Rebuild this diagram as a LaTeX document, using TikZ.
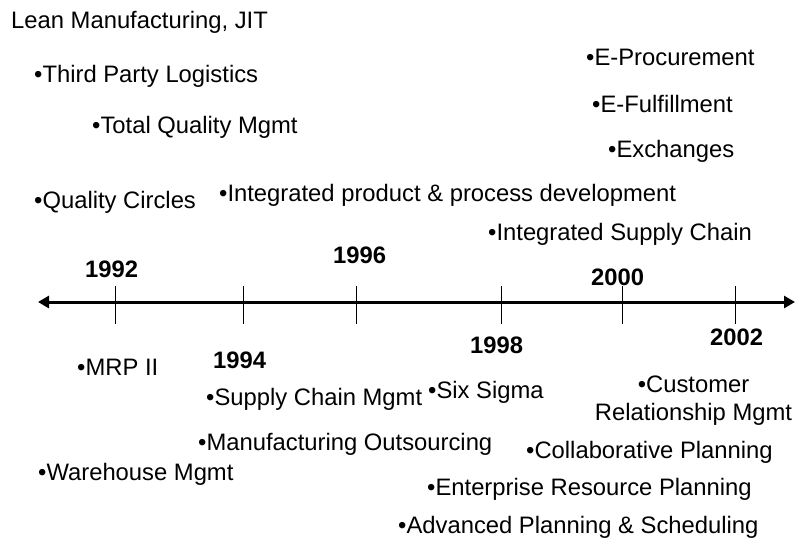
\documentclass[tikz,border=0pt]{standalone}
\usepackage{fontspec}
\setmainfont{Liberation Sans}
\usetikzlibrary{arrows.meta}
\tikzset{
  item/.style={anchor=base west,inner sep=0pt,font=\fontsize{23.8}{28}\selectfont},
  yearlbl/.style={anchor=base west,inner sep=0pt,font=\fontsize{23.8}{28}\selectfont\bfseries},
  axisline/.style={line width=3pt,{Triangle[length=11pt,width=12pt]}-{Triangle[length=11pt,width=12pt]}},
  tickline/.style={line width=0.9pt}
}
\begin{document}
\begin{tikzpicture}[x=1pt,y=-1pt]
\useasboundingbox (0,0) rectangle (795,542);
% axis
\coordinate (axL) at (38,302);
\coordinate (axR) at (795,302);
\draw[axisline] (axL) -- (axR);
\foreach \tx/\nm in {115/t1,243/t2,356/t3,501/t4,622/t5,735/t6}{
  \coordinate (\nm a) at (\tx,286);
  \coordinate (\nm b) at (\tx,324);
  \draw[tickline] (\nm a) -- (\nm b);
}
% years
\node[yearlbl] (y1992) at (85,277) {1992};
\node[yearlbl] (y1996) at (333,263) {1996};
\node[yearlbl] (y2000) at (591,285) {2000};
\node[yearlbl] (y1994) at (213,368) {1994};
\node[yearlbl] (y1998) at (470,353) {1998};
\node[yearlbl] (y2002) at (710,345) {2002};
% upper items
\node[item] (lean) at (11,28) {Lean Manufacturing, JIT};
\node[item] (tpl) at (34,82) {•Third Party Logistics};
\node[item] (tqm) at (92,133) {•Total Quality Mgmt};
\node[item] (qc) at (34,208) {•Quality Circles};
\node[item] (ippd) at (219,201) {•Integrated product \& process development};
\node[item] (eproc) at (586,65) {•E-Procurement};
\node[item] (eful) at (592,112) {•E-Fulfillment};
\node[item] (exch) at (608,157) {•Exchanges};
\node[item] (isc) at (488,240) {•Integrated Supply Chain};
% lower items
\node[item] (mrp) at (77,375) {•MRP II};
\node[item] (scm) at (206,405) {•Supply Chain Mgmt};
\node[item] (six) at (428,398) {•Six Sigma};
\node[anchor=base,inner sep=0pt,align=center,font=\fontsize{23.8}{28}\selectfont] (crm) at (693.5,420) {•Customer\\Relationship Mgmt};
\node[item] (mo) at (198,450) {•Manufacturing Outsourcing};
\node[item] (cp) at (526,458) {•Collaborative Planning};
\node[item] (wm) at (38,480) {•Warehouse Mgmt};
\node[item] (erp) at (427,495) {•Enterprise Resource Planning};
\node[item] (aps) at (398,533) {•Advanced Planning \& Scheduling};
\end{tikzpicture}
\end{document}
